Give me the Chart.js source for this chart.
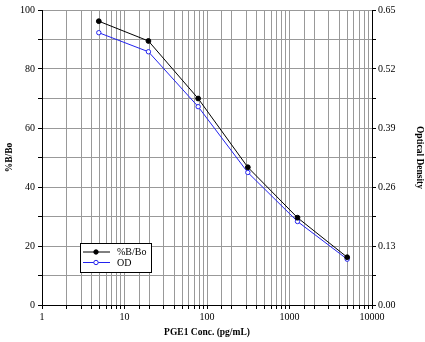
<!DOCTYPE html>
<html>
<head>
<meta charset="utf-8">
<script src="https://cdn.jsdelivr.net/npm/chart.js@4/dist/chart.umd.min.js"></script>
<style>
  html,body{margin:0;padding:0;background:#fff}
  #wrap{width:425px;height:342px}
</style>
</head>
<body>
<div id="wrap"><canvas id="c" width="425" height="342"></canvas></div>
<script>
// standard curve: 1:4 serial dilution from 5000 pg/mL
const conc = [4.88, 19.5, 78.1, 312.5, 1250, 5000];
const pctBBo = [96.2, 89.5, 70.0, 46.7, 29.6, 16.2];
const od = [0.600, 0.558, 0.437, 0.292, 0.184, 0.101];
const xLabels = [1, 10, 100, 1000, 10000];
const rightLabels = ['0.00', '0.13', '0.26', '0.39', '0.52', '0.65'];

const serif = 'Liberation Serif, Times New Roman, serif';

// legend drawn inside the plot, lower left
const boxLegend = {
  id: 'boxLegend',
  afterDraw(chart){
    const ctx = chart.ctx;
    const x0 = 80, y0 = 243, w = 71, h = 29;
    ctx.save();
    ctx.fillStyle = '#fff';
    ctx.fillRect(x0, y0, w, h);
    ctx.strokeStyle = '#000';
    ctx.lineWidth = 1;
    ctx.strokeRect(x0 + 0.5, y0 + 0.5, w, h);
    chart.data.datasets.forEach((ds, i) => {
      const y = y0 + 9 + i * 10.5;
      ctx.strokeStyle = ds.borderColor;
      ctx.beginPath(); ctx.moveTo(x0 + 3, y); ctx.lineTo(x0 + 30, y); ctx.stroke();
      ctx.beginPath(); ctx.arc(x0 + 16, y, 2.2, 0, Math.PI * 2);
      ctx.fillStyle = ds.pointBackgroundColor; ctx.fill();
      ctx.strokeStyle = ds.pointBorderColor; ctx.stroke();
      ctx.fillStyle = '#000';
      ctx.font = '10px ' + serif;
      ctx.textBaseline = 'middle';
      ctx.fillText(ds.label, x0 + 37, y + 0.5);
    });
    ctx.restore();
  }
};

new Chart(document.getElementById('c'), {
  type: 'line',
  data: {
    datasets: [
      {label:'%B/Bo', data: conc.map((c,i)=>({x:c, y:pctBBo[i]})), yAxisID:'y',
       borderColor:'#000', borderWidth:1, pointRadius:2.4, pointBackgroundColor:'#000', pointBorderColor:'#000'},
      {label:'OD', data: conc.map((c,i)=>({x:c, y:od[i]})), yAxisID:'y2',
       borderColor:'#2222ee', borderWidth:1, pointRadius:2.2, pointBackgroundColor:'#fff', pointBorderColor:'#2222ee', pointBorderWidth:1}
    ]
  },
  options: {
    responsive:false, animation:false,
    layout:{padding:{top:10, left:0, right:0, bottom:0}},
    plugins:{legend:{display:false}, tooltip:{enabled:false}},
    scales:{
      x:{
        type:'logarithmic', min:1, max:10000,
        afterFit(s){ s.height = 37 },
        border:{color:'#000', width:1},
        grid:{color:'#999', tickLength:4, tickColor:'#000'},
        ticks:{autoSkip:false, maxRotation:0, padding:2, color:'#000', font:{family:serif, size:10},
          callback:v => xLabels.includes(v) ? String(v) : ''},
        title:{display:true, text:'PGE1 Conc. (pg/mL)', color:'#000', padding:{top:4}, font:{family:serif, size:9.5, weight:'bold'}}
      },
      y:{
        position:'left', min:0, max:100,
        afterFit(s){ s.width = 42 },
        border:{color:'#000', width:1},
        grid:{color:'#999', tickLength:4, tickColor:'#000'},
        ticks:{stepSize:10, padding:3, color:'#000', font:{family:serif, size:10},
          callback:v => v % 20 === 0 ? v : ''},
        title:{display:true, text:'%B/Bo', color:'#000', padding:{bottom:0}, font:{family:serif, size:9.5, weight:'bold'}}
      },
      y2:{
        position:'right', min:0, max:0.65,
        afterFit(s){ s.width = 53 },
        border:{color:'#000', width:1},
        grid:{drawOnChartArea:false, tickLength:4, tickColor:'#000'},
        afterBuildTicks(s){ s.ticks = Array.from({length:11}, (_, i) => ({value: 0.065 * i})) },
        ticks:{padding:2, color:'#000', font:{family:serif, size:10},
          callback:(v, i) => i % 2 === 0 ? rightLabels[i / 2] : ''},
        title:{display:true, text:'Optical Density', color:'#000', padding:{top:0}, font:{family:serif, size:9.5, weight:'bold'}}
      }
    }
  },
  plugins:[boxLegend]
});
</script>
</body>
</html>
